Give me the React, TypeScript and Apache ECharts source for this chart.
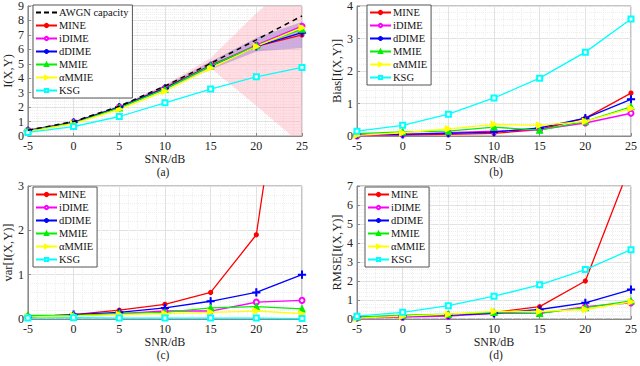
import React, { useEffect, useRef } from "react";
import * as echarts from "echarts";

const snr = [-5, 0, 5, 10, 15, 20, 25];
const methods = ["MINE", "iDIME", "dDIME", "MMIE", "αMMIE", "KSG"];

// (a) I(X,Y)
const awgn = [0.4, 1.0, 2.06, 3.46, 5.03, 6.66, 8.31];
const miA = [
  [0.35, 0.95, 2.0, 3.35, 4.9, 6.2, 7.0],
  [0.4, 0.95, 2.0, 3.3, 4.85, 6.3, 7.6],
  [0.35, 0.95, 2.0, 3.3, 4.85, 6.2, 7.15],
  [0.35, 0.9, 1.95, 3.25, 4.85, 6.25, 7.4],
  [0.3, 0.85, 1.85, 3.1, 4.7, 6.2, 7.5],
  [0.25, 0.65, 1.35, 2.3, 3.25, 4.1, 4.75],
];
const mineBandLow = [0.3, 0.85, 1.9, 3.2, 4.7, 2.1, -0.6];
const mineBandHigh = [0.45, 1.05, 2.1, 3.55, 5.4, 8.5, 11.2];
const dimeBandLow = [0.3, 0.88, 1.9, 3.2, 4.6, 5.85, 6.1];
const dimeBandHigh = [0.45, 1.0, 2.1, 3.5, 5.15, 6.8, 7.9];

// (b) Bias
const biasB = [
  [0.02, 0.03, 0.05, 0.08, 0.2, 0.55, 1.32],
  [0.0, 0.05, 0.1, 0.15, 0.2, 0.4, 0.7],
  [0.05, 0.05, 0.08, 0.12, 0.25, 0.55, 1.13],
  [0.07, 0.13, 0.15, 0.27, 0.18, 0.45, 0.9],
  [0.02, 0.1, 0.22, 0.36, 0.33, 0.45, 0.85],
  [0.15, 0.33, 0.67, 1.17, 1.78, 2.58, 3.6],
];

// (c) var
const varC = [
  [0.05, 0.1, 0.2, 0.33, 0.6, 1.9, 8.8],
  [0.05, 0.08, 0.12, 0.18, 0.18, 0.38, 0.42],
  [0.05, 0.1, 0.15, 0.25, 0.4, 0.6, 1.0],
  [0.08, 0.08, 0.12, 0.15, 0.25, 0.28, 0.23],
  [0.05, 0.07, 0.1, 0.12, 0.15, 0.18, 0.12],
  [0.02, 0.03, 0.02, 0.02, 0.02, 0.02, 0.01],
];

// (d) RMSE
const rmseD = [
  [0.1, 0.15, 0.2, 0.35, 0.65, 2.0, 8.2],
  [0.05, 0.1, 0.15, 0.3, 0.3, 0.65, 0.85],
  [0.1, 0.15, 0.2, 0.3, 0.5, 0.85, 1.55],
  [0.1, 0.2, 0.25, 0.35, 0.3, 0.6, 0.95],
  [0.05, 0.15, 0.25, 0.4, 0.4, 0.5, 0.9],
  [0.15, 0.35, 0.7, 1.2, 1.8, 2.6, 3.65],
];

const yNames = ["I(X,Y)", "Bias[I(X,Y)]", "var[I(X,Y)]", "RMSE[I(X,Y)]"];
const yMax = [9, 4, 3, 7];
const panelLabels = ["(a)", "(b)", "(c)", "(d)"];

const colors = ["#ff0000", "#ff00ff", "#0000ff", "#00f000", "#ffff00", "#00ffff"];
const plusPath =
  "path://M-0.12,-1L0.12,-1L0.12,-0.12L1,-0.12L1,0.12L0.12,0.12L0.12,1L-0.12,1L-0.12,0.12L-1,0.12L-1,-0.12L-0.12,-0.12Z";
const rightTri = "path://M0,0L10,5L0,10Z";
const dashIcon = "path://M0,0h5v1.8h-5zM8,0h5v1.8h-5zM16,0h5v1.8h-5z";
const symbols = ["circle", "emptyCircle", plusPath, "triangle", rightTri, "emptyRect"];
const symbolSizes = [4, 5, 7, 6, 6, 5];

const FONT = "'Liberation Serif', 'Times New Roman', serif";

const grids = [
  { left: 24, top: 4, width: 278, height: 132 },
  { left: 357, top: 4, width: 278, height: 132 },
  { left: 24, top: 186, width: 278, height: 133 },
  { left: 357, top: 186, width: 278, height: 133 },
];

const legendPos = [
  { left: 33, top: 5 },
  { left: 367, top: 5 },
  { left: 33, top: 187 },
  { left: 365, top: 187 },
];

function pairs(vals: number[]) {
  return vals.map((v, i) => [snr[i], v]);
}

function bandSeries(low: number[], high: number[], color: string) {
  return {
    type: "custom",
    xAxisIndex: 0,
    yAxisIndex: 0,
    clip: true,
    silent: true,
    z: 1,
    data: snr.map((x, i) => [x, low[i], high[i]]),
    encode: { x: 0, y: [1, 2] },
    renderItem: (params: any, api: any) => {
      if (params.dataIndex !== 0) return null;
      const top = snr.map((x, i) => api.coord([x, high[i]]));
      const bot = snr.map((x, i) => api.coord([x, low[i]])).reverse();
      return {
        type: "polygon",
        shape: { points: top.concat(bot) },
        style: { fill: color, stroke: "none" },
      };
    },
  };
}

export default function App() {
  const ref = useRef<HTMLDivElement>(null);
  useEffect(() => {
    if (!ref.current) return;
    const chart = echarts.init(ref.current, undefined, { renderer: "svg" });
    const panelData = [miA, biasB, varC, rmseD];

    const xAxes: any[] = [];
    const yAxes: any[] = [];
    const series: any[] = [];
    const legends: any[] = [];
    const graphics: any[] = [];

    grids.forEach((g, k) => {
      xAxes.push({
        type: "value",
        gridIndex: k,
        min: -5,
        max: 25,
        interval: 5,
        name: "SNR/dB",
        nameLocation: "middle",
        nameGap: 15,
        nameTextStyle: { fontFamily: FONT, fontSize: 12, color: "#222", lineHeight: 12 },
        axisLine: { show: true, onZero: false, lineStyle: { color: "#8a8a8a" } },
        axisTick: { show: true, inside: true, length: 3, lineStyle: { color: "#8a8a8a" } },
        axisLabel: { fontFamily: FONT, fontSize: 12, color: "#222", margin: 4, lineHeight: 12 },
        splitLine: { show: true, lineStyle: { color: "#e2e2e2", width: 1 } },
        minorTick: { show: false, splitNumber: 5 },
        minorSplitLine: { show: true, lineStyle: { color: "#eeeeee", type: "dotted" } },
      });
      yAxes.push({
        type: "value",
        gridIndex: k,
        min: 0,
        max: yMax[k],
        interval: 1,
        name: yNames[k],
        nameLocation: "middle",
        nameGap: 11,
        nameTextStyle: { fontFamily: FONT, fontSize: 12.5, color: "#222" },
        axisLine: { show: true, onZero: false, lineStyle: { color: "#8a8a8a" } },
        axisTick: { show: true, inside: true, length: 3, lineStyle: { color: "#8a8a8a" } },
        axisLabel: { fontFamily: FONT, fontSize: 12, color: "#222", margin: 4 },
        splitLine: { show: true, lineStyle: { color: "#e2e2e2", width: 1 } },
        minorTick: { show: false, splitNumber: 5 },
        minorSplitLine: { show: true, lineStyle: { color: "#eeeeee", type: "dotted" } },
      });

      if (k === 0) {
        series.push(bandSeries(mineBandLow, mineBandHigh, "rgba(255,175,185,0.42)"));
        series.push(bandSeries(dimeBandLow, dimeBandHigh, "rgba(160,125,215,0.5)"));
      }

      panelData[k].forEach((vals, m) => {
        series.push({
          type: "line",
          name: methods[m],
          xAxisIndex: k,
          yAxisIndex: k,
          data: pairs(vals),
          color: colors[m],
          symbol: symbols[m],
          symbolSize: symbolSizes[m],
          showAllSymbol: true,
          clip: true,
          lineStyle: { width: 1.3, color: colors[m] },
          itemStyle: { color: colors[m], borderColor: colors[m], borderWidth: 1.2 },
          z: 3,
        });
      });

      if (k === 0) {
        series.push({
          type: "line",
          name: "AWGN capacity",
          xAxisIndex: 0,
          yAxisIndex: 0,
          data: pairs(awgn),
          color: "#000",
          symbol: "none",
          lineStyle: { width: 1.5, color: "#000", type: [5, 4] },
          z: 4,
        });
      }

      const items: any[] = methods.map((n) => ({ name: n }));
      if (k === 0) items.unshift({ name: "AWGN capacity", icon: dashIcon });

      legends.push({
        show: true,
        orient: "vertical",
        left: legendPos[k].left,
        top: legendPos[k].top,
        data: items,
        backgroundColor: "#fff",
        borderColor: "#555",
        borderWidth: 1,
        borderRadius: 0,
        padding: [2, 4, 2, 2],
        itemGap: 2,
        itemWidth: 21,
        itemHeight: 4,
        selectedMode: false,
        textStyle: { fontFamily: FONT, fontSize: 10.5, color: "#111", padding: [0, 0, 0, -3] },
      });

      graphics.push({
        type: "text",
        x: g.left + g.width / 2,
        y: g.top + g.height + 36,
        style: {
          text: panelLabels[k],
          font: `11.5px ${FONT}`,
          fill: "#222",
          textAlign: "center",
          textVerticalAlign: "middle",
        },
      });
    });

    chart.setOption({
      animation: false,
      backgroundColor: "#fff",
      grid: grids.map((g) => ({
        ...g,
        show: true,
        borderColor: "#8a8a8a",
        borderWidth: 1,
        backgroundColor: "transparent",
      })),
      xAxis: xAxes,
      yAxis: yAxes,
      legend: legends,
      series,
      graphic: graphics,
    });
    return () => chart.dispose();
  }, []);

  return (
    <div
      ref={ref}
      style={{ position: "fixed", left: 0, top: 0, width: 640, height: 366, background: "#fff" }}
    />
  );
}
